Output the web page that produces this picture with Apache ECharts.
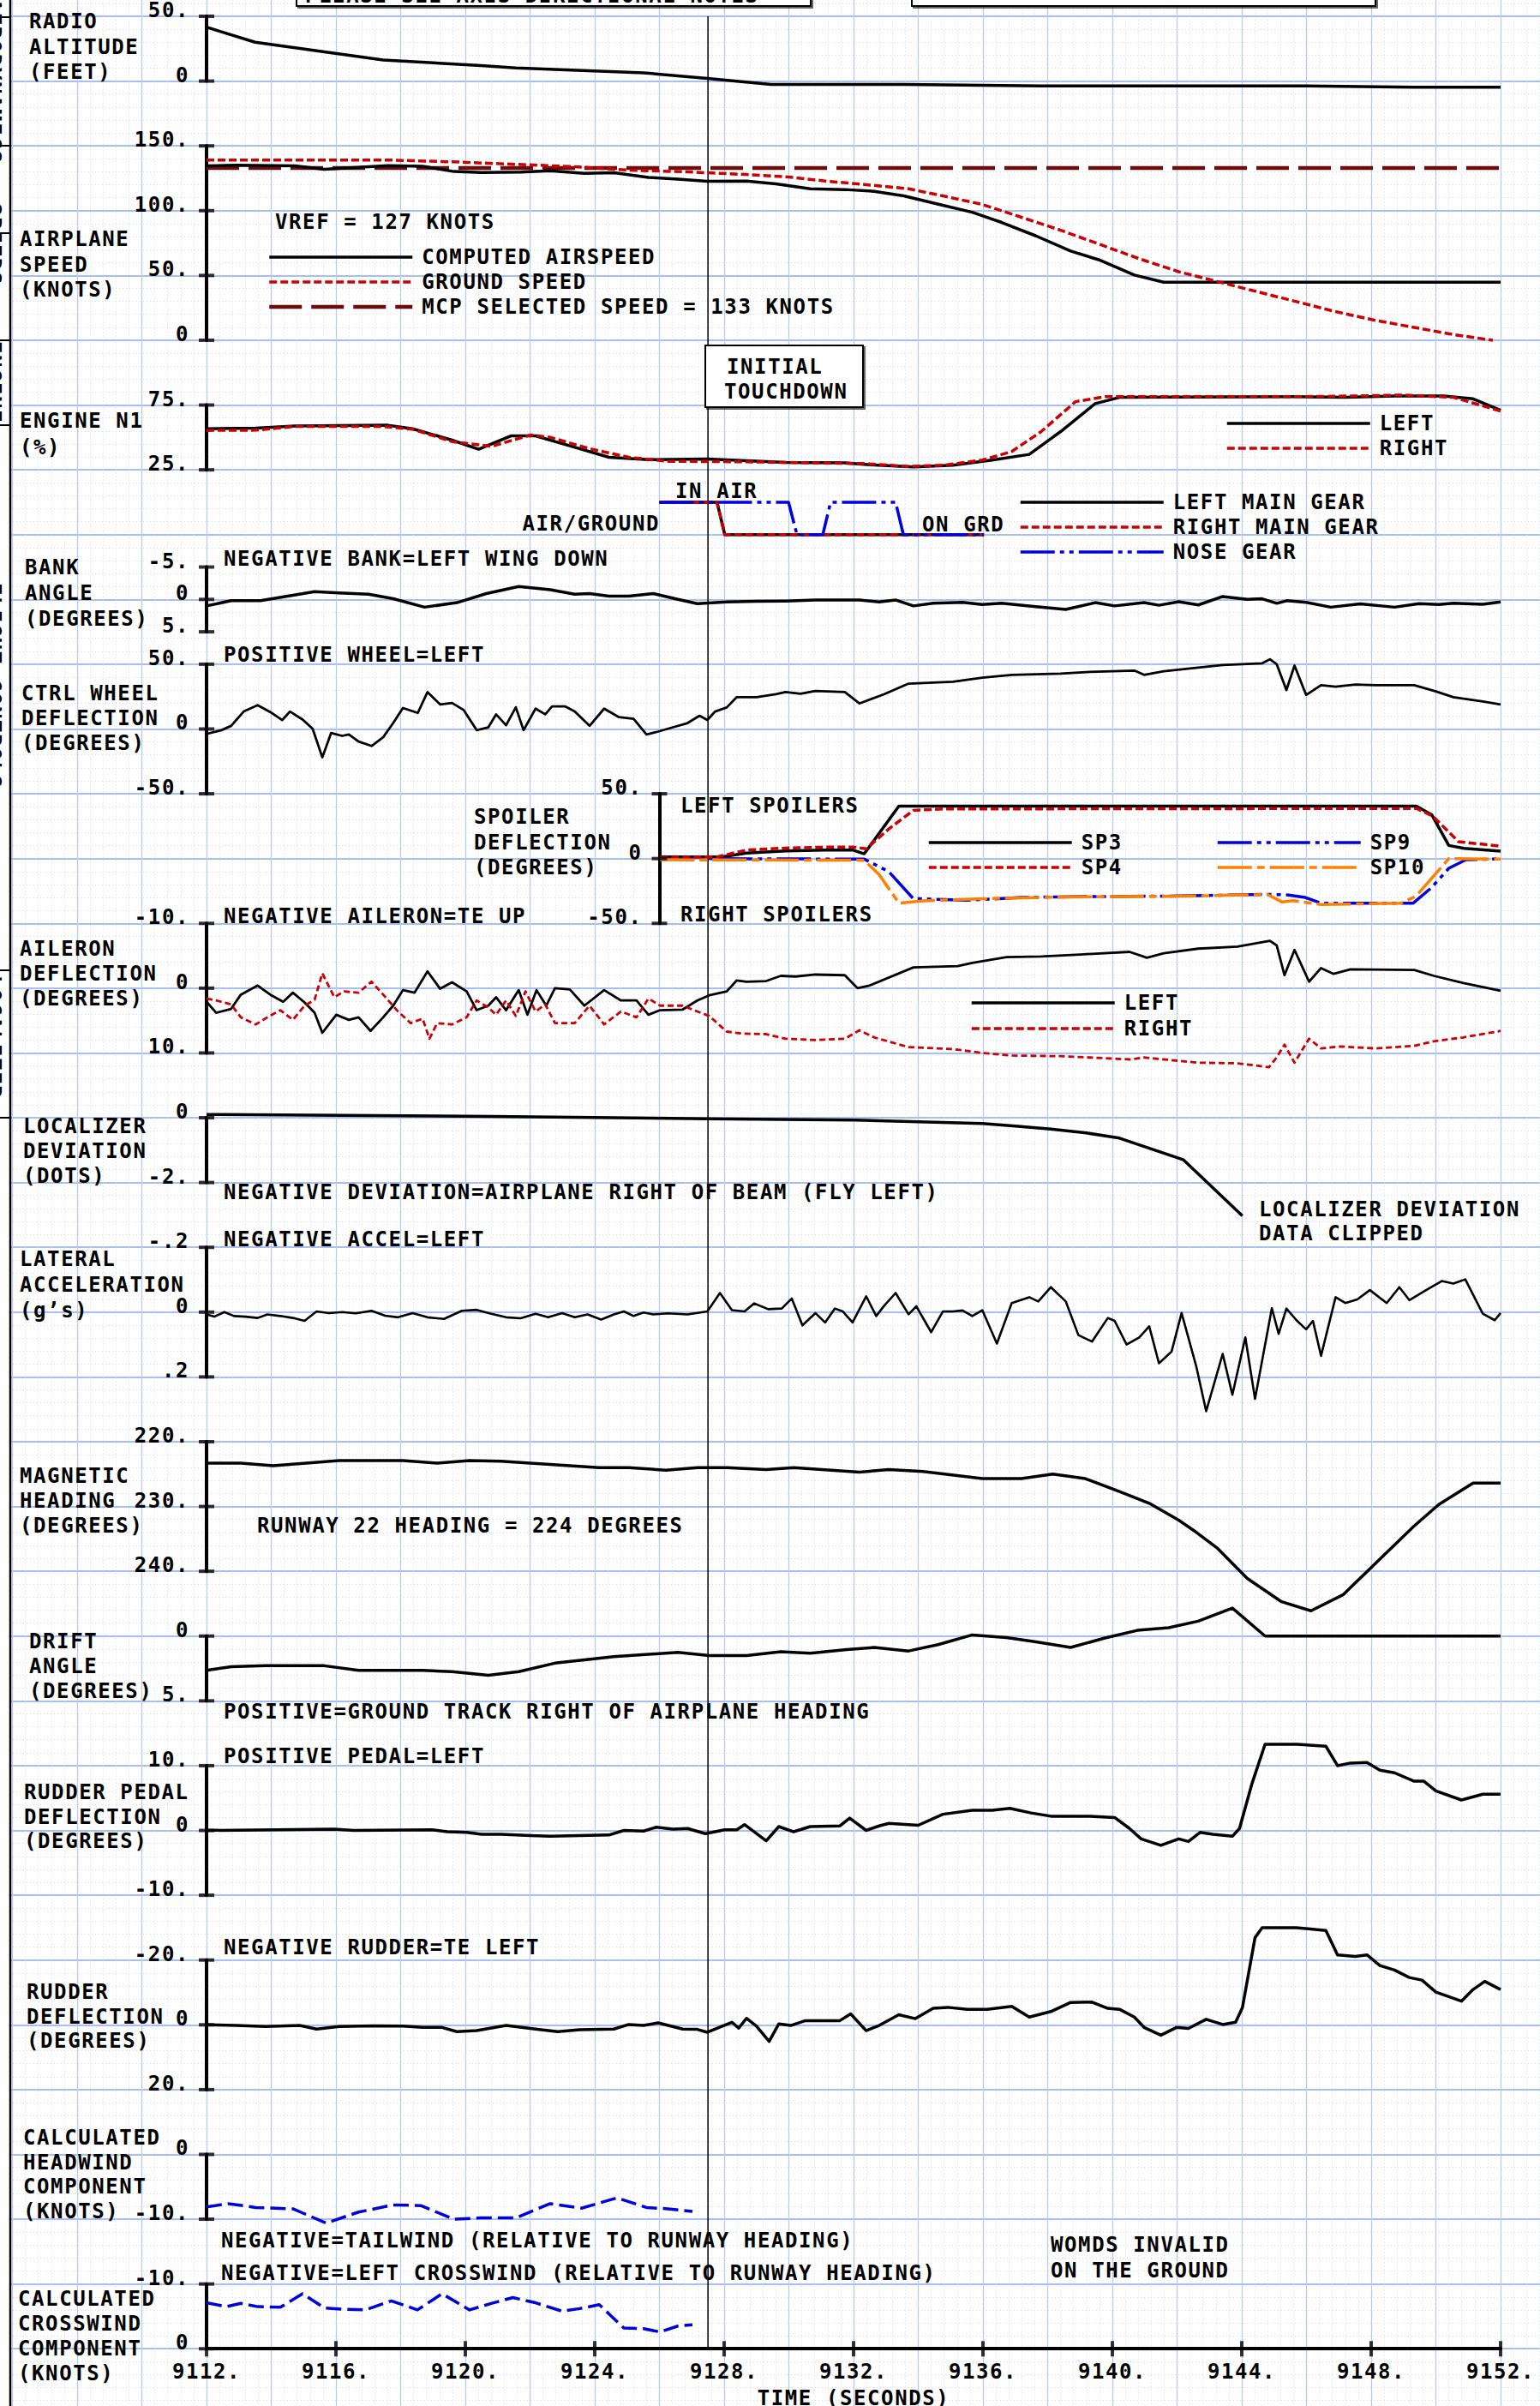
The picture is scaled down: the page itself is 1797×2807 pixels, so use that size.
<!DOCTYPE html>
<html>
<head>
<meta charset="utf-8">
<title>Flight data – landing roll</title>
<script src="https://cdn.jsdelivr.net/npm/echarts@6/dist/echarts.min.js"></script>
<style>
  html, body { margin: 0; padding: 0; background: #fff; }
  #chart { width: 1797px; height: 2807px; }
  #chart text { letter-spacing: 1.6px; }
</style>
</head>
<body>
<div id="chart"></div>
<script>
// ---------------- time axis ----------------
const timeMin = 9112, timeMax = 9152;
const timeTicks = [9112, 9116, 9120, 9124, 9128, 9132, 9136, 9140, 9144, 9148, 9152];
const spoilerTimeMin = 9126;
const touchdownTime = 9127.5;

// ---------------- tick values / labels ----------------
const radioTicks = [0, 50],            radioTickLabels = ['0', '50.'];
const speedTicks = [0, 50, 100, 150],  speedTickLabels = ['0', '50.', '100.', '150.'];
const engineTicks = [25, 75],          engineTickLabels = ['25.', '75.'];
const bankTicks = [-5, 0, 5],          bankTickLabels = ['-5.', '0', '5.'];
const wheelTicks = [-50, 0, 50],       wheelTickLabels = ['-50.', '0', '50.'];
const spoilerTicks = [-50, 0, 50],     spoilerTickLabels = ['-50.', '0', '50.'];
const aileronTicks = [-10, 0, 10],     aileronTickLabels = ['-10.', '0', '10.'];
const locTicks = [-2, 0],              locTickLabels = ['-2.', '0'];
const latTicks = [-0.2, 0, 0.2],       latTickLabels = ['-.2', '0', '.2'];
const headingTicks = [220, 230, 240],  headingTickLabels = ['220.', '230.', '240.'];
const driftTicks = [0, 5],             driftTickLabels = ['0', '5.'];
const pedalTicks = [-10, 0, 10],       pedalTickLabels = ['-10.', '0', '10.'];
const rudderTicks = [-20, 0, 20],      rudderTickLabels = ['-20.', '0', '20.'];
const headwindTicks = [-10, 0],        headwindTickLabels = ['-10.', '0'];
const crosswindTicks = [-10, 0],       crosswindTickLabels = ['-10.', '0'];

// ---------------- recorded parameters [time, value] ----------------
const radioAltitude = [[9112,41.6],[9113.5,30.0],[9117.46,16.3],[9120.48,11.9],[9121.56,10.1],[9125.51,6.4],[9127.48,2.0],[9129.45,-2.6],[9133.55,-2.6],[9137.8,-3.7],[9145.69,-3.7],[9149.33,-4.8],[9152,-4.8]];

const computedAirspeed = [[9112,134.6],[9112.91,135],[9114.73,134.6],[9115.64,131.9],[9116.55,133.2],[9117.61,134.8],[9118.68,134.3],[9119.65,130.2],[9120.5,129.5],[9121.71,129.7],[9122.62,130.8],[9123.68,128.8],[9124.59,129.3],[9125.66,125.7],[9126.57,124.4],[9127.48,122.7],[9128.69,122.9],[9129.6,120.7],[9130.66,116.9],[9131.73,116.3],[9132.64,114.9],[9133.55,111.4],[9134.76,104.1],[9135.67,98.8],[9136.58,90.9],[9137.64,80.5],[9138.71,68.8],[9139.62,61.8],[9140.68,50.3],[9141.59,44.8],[9152,44.8]];
const groundSpeed = [[9112,139],[9117.77,139],[9119.59,137.7],[9121.41,135.9],[9123.23,134.1],[9125.05,131.3],[9126.87,129.9],[9128.69,127.9],[9129.9,126.2],[9131.12,122.9],[9132.33,120.2],[9133.7,116.9],[9134.76,111.4],[9135.98,104.8],[9137.19,94.9],[9138.4,84.9],[9139.62,73.9],[9140.83,62.9],[9142.05,52.9],[9143.26,45.2],[9144.47,37.5],[9145.69,29.8],[9146.9,22.1],[9148.12,15.4],[9149.33,9.9],[9150.54,4.4],[9151.76,0]];
const mcpSelectedSpeed = 133;

const engineN1Left = [[9112,56.7],[9113.52,57.2],[9114.73,58.9],[9117.61,59.4],[9118.37,56.7],[9119.59,47.9],[9120.41,40.9],[9121.41,51.2],[9122.17,51.2],[9123.23,43.5],[9124.44,34.7],[9125.66,32.9],[9127.48,33.4],[9128.69,32],[9129.9,30.7],[9131.73,30.3],[9132.64,28.7],[9133.85,27.2],[9135.07,28.5],[9136.28,32.5],[9137.43,36.9],[9138.4,54.5],[9139.47,76.1],[9140.22,80.9],[9145.69,81.4],[9147.2,80.9],[9148.72,82],[9150.24,82],[9151.15,79.8],[9152,71]];
const engineN1Right = [[9112,55.4],[9113.52,55.6],[9114.73,58.5],[9117.46,58.5],[9118.37,56.3],[9119.59,46.8],[9120.8,43.1],[9122.02,51.9],[9122.62,50.1],[9123.84,41.3],[9125.05,34.7],[9126.26,31.6],[9128.69,31.2],[9129.9,30.7],[9132.33,29.8],[9133.7,27.6],[9134.76,28.5],[9135.98,32.5],[9136.89,39.1],[9137.8,54.5],[9138.86,77.6],[9139.77,81.4],[9145.69,81.4],[9147.51,82],[9149.03,82.7],[9150.54,80.9],[9152,70.4]];

// air/ground discretes: 1 = in air, 0 = on ground
const leftMainGear  = [[9126,1],[9127.78,1],[9128.02,0],[9136.03,0]];
const rightMainGear = [[9126,1],[9127.78,1],[9128.02,0],[9136.03,0]];
const noseGear      = [[9126,1],[9129.99,1],[9130.25,0],[9131.05,0],[9131.29,1],[9133.3,1],[9133.54,0],[9136.03,0]];

const bankAngle = [[9112,1.0],[9112.76,0.2],[9113.67,0.2],[9114.43,-0.45],[9115.34,-1.2],[9116.1,-1.0],[9117.01,-0.8],[9117.77,-0.1],[9118.74,1.2],[9119.74,0.5],[9120.65,-0.9],[9121.65,-2.0],[9122.62,-1.5],[9123.38,-0.8],[9123.84,-0.9],[9124.44,-0.5],[9125.05,-0.5],[9125.81,-0.9],[9126.57,0],[9127.17,0.65],[9128.08,0.4],[9129.0,0.3],[9129.9,0.25],[9130.82,0.1],[9132.18,0.1],[9132.79,0.4],[9133.31,0.1],[9133.85,1.0],[9134.46,0.6],[9135.37,0.45],[9135.98,0.8],[9136.58,0.6],[9137.49,1.05],[9138.56,1.55],[9139.47,0.5],[9140.07,1.0],[9140.98,0.5],[9141.44,0.9],[9142.05,0.35],[9142.66,0.85],[9143.41,-0.45],[9144.17,0],[9144.63,-0.1],[9145.08,0.6],[9145.39,0.2],[9145.99,0.45],[9146.75,1.2],[9147.66,0.7],[9148.72,1.2],[9149.48,0.65],[9150.09,0.8],[9150.54,0.6],[9151.45,0.75],[9152,0.4]];

const ctrlWheel = [[9112,-3.8],[9112.46,-0.9],[9112.76,2.4],[9113.15,13.5],[9113.58,18.4],[9113.97,13.1],[9114.34,6.9],[9114.58,13.5],[9114.97,7.3],[9115.28,0.2],[9115.58,-21.9],[9115.85,-3.1],[9116.19,-5.3],[9116.4,-4.2],[9116.7,-9.7],[9117.1,-13.1],[9117.46,-6.4],[9117.77,4.6],[9118.07,16.2],[9118.53,12.4],[9118.83,28.5],[9119.22,19],[9119.59,20.1],[9119.95,14.6],[9120.35,-0.9],[9120.71,1.3],[9120.95,11.3],[9121.26,2.9],[9121.56,16.8],[9121.8,-0.9],[9122.17,15.7],[9122.47,11.3],[9122.68,17.5],[9123.08,17.5],[9123.38,13.5],[9123.84,2.4],[9124.29,15.7],[9124.75,9.1],[9125.2,7.9],[9125.6,-4.2],[9125.96,-2],[9126.42,1.3],[9126.87,4.6],[9127.24,10.2],[9127.48,6.9],[9127.72,13.5],[9128.08,16.6],[9128.39,24.6],[9129.0,24.6],[9129.6,26.8],[9129.9,28.5],[9130.36,27.2],[9130.82,29.4],[9131.73,28.5],[9132.18,19.7],[9132.94,26.8],[9133.7,35],[9135.07,36.5],[9135.98,39.6],[9136.89,41.8],[9138.4,42.7],[9139.31,44],[9140.68,45.1],[9140.98,41.8],[9141.59,44.5],[9142.65,47.3],[9143.41,49.3],[9144.63,50.7],[9144.87,53.8],[9145.08,50],[9145.38,30.1],[9145.63,48.9],[9145.99,26.3],[9146.45,33.8],[9146.9,32.7],[9147.51,34.3],[9148.12,33.8],[9149.33,33.8],[9150.0,29],[9150.54,24.6],[9151.45,21.2],[9152,19]];

const spoilerSP3 = [[9126.02,1.3],[9127.93,1.3],[9128.69,4.2],[9129.9,5.9],[9131.1,6.6],[9131.97,6.6],[9132.33,3.7],[9133.4,40.5],[9149.4,40.5],[9149.87,33.9],[9150.4,10.1],[9150.87,7.9],[9152,5.7]];
const spoilerSP4 = [[9126.02,0.9],[9127.78,1.3],[9128.69,6.6],[9129.9,8.1],[9131.1,8.8],[9132.0,8.8],[9132.39,7.5],[9133.09,22.9],[9133.85,37.2],[9134.76,38.3],[9149.4,38.7],[9149.9,32.8],[9150.7,13],[9152,9.6]];
const spoilerSP9 = [[9126.02,0],[9132.33,-0.4],[9133.09,-10.1],[9133.85,-31],[9134.1,-31],[9135.5,-32.2],[9137.19,-30],[9138.2,-29.6],[9139.6,-29.3],[9142.05,-28.9],[9144.8,-27.6],[9145.4,-28],[9145.96,-30],[9146.45,-34.4],[9149.3,-34.4],[9149.87,-22.3],[9150.4,-7.5],[9150.93,-0.9],[9152,-0.2]];
const spoilerSP10 = [[9126.02,-0.9],[9132.33,-1.3],[9132.79,-12.3],[9133.4,-34.4],[9134.15,-32.6],[9136.0,-31],[9137.8,-30],[9140,-29.3],[9142.05,-29],[9144.8,-27.8],[9145.25,-33.5],[9145.6,-32.5],[9146.45,-35.5],[9148.93,-34.4],[9149.39,-29],[9150.4,0],[9152,-0.4]];

const aileronLeft = [[9112,2.1],[9112.3,3.8],[9112.76,3.2],[9113.06,1.0],[9113.58,-0.4],[9113.97,1.0],[9114.37,2.1],[9114.67,0.7],[9115.03,2.2],[9115.34,3.8],[9115.58,6.9],[9116.01,4.1],[9116.4,4.9],[9116.7,4.5],[9117.07,6.6],[9117.46,4.5],[9117.77,2.7],[9118.07,0.3],[9118.43,0.7],[9118.83,-2.6],[9119.22,0.1],[9119.59,-0.9],[9120.04,0.5],[9120.35,3.4],[9120.71,2.7],[9120.95,1.4],[9121.26,3.4],[9121.65,0.3],[9121.92,4.1],[9122.2,0.3],[9122.5,2.7],[9122.77,0],[9123.23,0.2],[9123.68,2.7],[9124.29,0.3],[9124.81,1.9],[9125.29,1.9],[9125.66,4.1],[9126.02,3.4],[9126.72,3.3],[9127.17,1.9],[9127.54,1.1],[9128.08,0.5],[9128.39,-1.2],[9128.69,-1.0],[9129.3,-1.1],[9129.75,-1.9],[9130.21,-1.8],[9130.82,-2.1],[9131.73,-2.0],[9132.12,0],[9132.49,-0.4],[9133.85,-3.2],[9135.22,-3.4],[9135.67,-3.9],[9136.73,-4.8],[9137.8,-4.9],[9139.01,-5.2],[9140.53,-5.6],[9141.07,-4.7],[9141.59,-5.4],[9142.65,-6.1],[9143.87,-6.4],[9144.53,-7.0],[9144.87,-7.3],[9145.08,-6.6],[9145.32,-2.0],[9145.63,-5.9],[9146.08,-1.0],[9146.45,-3.1],[9146.84,-2.2],[9147.36,-2.9],[9149.33,-2.8],[9149.94,-1.9],[9150.85,-0.8],[9152,0.4]];
const aileronRight = [[9112,1.6],[9112.3,1.9],[9112.76,2.5],[9113.06,4.5],[9113.52,5.6],[9113.88,4.5],[9114.28,3.4],[9114.67,4.9],[9115.03,2.7],[9115.34,1.8],[9115.58,-2.3],[9115.95,1.4],[9116.25,0.5],[9116.7,0.7],[9117.1,-1.0],[9117.46,1.0],[9117.92,3.6],[9118.31,5.4],[9118.68,4.7],[9118.89,7.8],[9119.13,5.4],[9119.59,5.6],[9120.04,4.5],[9120.35,1.9],[9120.71,3.0],[9120.95,4.1],[9121.26,1.9],[9121.56,4.3],[9121.86,0.5],[9122.17,3.6],[9122.47,2.5],[9122.77,5.4],[9123.38,5.4],[9123.84,2.7],[9124.29,5.6],[9124.81,3.6],[9125.29,4.5],[9125.66,1.6],[9126.02,2.7],[9126.72,2.7],[9127.17,3.6],[9127.54,4.3],[9128.08,6.7],[9128.54,7.0],[9129.3,7.1],[9129.9,7.8],[9130.82,8.0],[9131.73,7.8],[9132.18,6.5],[9132.64,7.6],[9133.7,9.1],[9135.07,9.4],[9135.98,10],[9136.89,10.4],[9138.4,10.5],[9139.31,10.7],[9140.53,11.0],[9140.98,10.7],[9141.59,11.0],[9142.65,11.5],[9143.87,11.6],[9144.84,12.2],[9145.08,10.7],[9145.32,8.7],[9145.63,11.5],[9146.08,7.8],[9146.45,9.3],[9147.05,9.0],[9148.12,9.3],[9149.33,8.9],[9149.94,8.2],[9150.85,7.6],[9152,6.6]];

const localizerDeviation = [[9112,0.1],[9120.8,0.04],[9127.48,-0.03],[9132.03,-0.07],[9135.98,-0.18],[9137.0,-0.26],[9138.1,-0.35],[9139.2,-0.47],[9140.22,-0.63],[9142.2,-1.3],[9144.02,-3.03]];

const lateralAccel = [[9112,0.007],[9112.24,0.014],[9112.55,0],[9112.85,0.012],[9113.21,0.014],[9113.58,0.018],[9113.88,0.007],[9114.28,0.012],[9114.67,0.018],[9115.03,0.027],[9115.4,-0.002],[9115.79,0.003],[9116.19,0],[9116.61,0.004],[9117.1,-0.004],[9117.52,0.011],[9117.92,0.016],[9118.37,0.003],[9118.83,0.016],[9119.34,0.021],[9119.89,-0.004],[9120.35,-0.007],[9120.8,0.005],[9121.26,0.016],[9121.71,0.019],[9122.17,0.005],[9122.56,0.016],[9122.99,0.003],[9123.38,0.016],[9123.78,0.007],[9124.2,0.023],[9124.59,0.007],[9124.9,-0.002],[9125.2,0.012],[9125.51,0.001],[9125.81,0.007],[9126.26,0.004],[9126.87,0.007],[9127.48,-0.002],[9127.87,-0.059],[9128.24,-0.006],[9128.63,-0.002],[9128.93,-0.027],[9129.36,-0.009],[9129.78,-0.011],[9130.09,-0.042],[9130.42,0.041],[9130.82,0.003],[9131.12,0.032],[9131.42,-0.011],[9131.67,-0.002],[9131.97,0.032],[9132.39,-0.049],[9132.7,0.012],[9132.94,-0.019],[9133.3,-0.059],[9133.7,0.007],[9133.94,-0.018],[9134.4,0.062],[9134.76,-0.002],[9135.07,-0.002],[9135.37,-0.005],[9135.67,0.012],[9135.98,-0.006],[9136.43,0.097],[9136.89,-0.028],[9137.43,-0.046],[9137.71,-0.033],[9138.1,-0.077],[9138.56,-0.033],[9138.95,0.071],[9139.37,0.091],[9139.86,0.018],[9140.07,0.027],[9140.44,0.1],[9140.83,0.078],[9141.14,0.044],[9141.44,0.158],[9141.83,0.122],[9142.14,0.003],[9142.59,0.166],[9142.9,0.306],[9143.41,0.129],[9143.71,0.255],[9144.11,0.078],[9144.41,0.268],[9144.93,-0.012],[9145.14,0.067],[9145.38,-0.011],[9145.69,0.025],[9145.99,0.053],[9146.2,0.027],[9146.45,0.135],[9146.9,-0.046],[9147.2,-0.028],[9147.57,-0.039],[9147.96,-0.068],[9148.48,-0.028],[9148.87,-0.077],[9149.18,-0.037],[9149.63,-0.064],[9150.18,-0.096],[9150.54,-0.088],[9150.91,-0.101],[9151.45,0.005],[9151.82,0.025],[9152,0.003]];

const magneticHeading = [[9112,223.3],[9113.06,223.3],[9114.06,223.7],[9116.1,222.9],[9118.07,222.9],[9119.13,223.3],[9120.13,222.9],[9121.1,223.0],[9124.14,224.0],[9125.05,224.0],[9126.2,224.4],[9127.17,224.0],[9128.08,224.0],[9129.3,224.3],[9130.15,224.0],[9132.18,224.7],[9133.09,224.3],[9134.15,224.6],[9135.98,225.7],[9137.19,225.7],[9138.16,225.0],[9139.16,225.7],[9140.22,227.7],[9141.14,229.5],[9142.05,232.1],[9142.6,234.0],[9143.26,236.5],[9144.17,241.1],[9145.23,244.7],[9146.14,246.1],[9147.14,243.6],[9147.96,239.6],[9149.33,233.0],[9150.09,229.7],[9151.15,226.4],[9152,226.4]];

const driftAngle = [[9112,2.64],[9112.76,2.36],[9113.82,2.29],[9115.64,2.29],[9116.7,2.64],[9118.68,2.64],[9119.59,2.75],[9120.71,3.02],[9121.65,2.75],[9122.77,2.09],[9124.59,1.59],[9126.57,1.26],[9127.54,1.5],[9128.69,1.5],[9129.75,1.21],[9130.66,1.32],[9131.79,1.04],[9132.64,0.88],[9133.7,1.15],[9134.61,0.66],[9135.67,-0.09],[9136.73,0.11],[9137.64,0.44],[9138.71,0.88],[9139.77,0.15],[9140.77,-0.44],[9141.74,-0.64],[9142.65,-1.15],[9143.71,-2.16],[9144.72,0],[9152,0]];

const rudderPedal = [[9112,0],[9115.95,0.2],[9116.55,0],[9118.98,0.1],[9119.44,-0.2],[9120.04,-0.3],[9120.5,-0.6],[9121.1,-0.6],[9122.02,-0.8],[9122.62,-0.9],[9124.44,-0.7],[9124.9,0],[9125.51,-0.1],[9125.9,0.5],[9126.42,0.2],[9126.87,0.3],[9127.42,-0.5],[9128.02,0.1],[9128.39,0.1],[9128.63,0.9],[9129.3,-1.6],[9129.69,0.6],[9130.15,-0.2],[9130.66,0.6],[9131.58,0.7],[9131.88,1.9],[9132.39,0],[9132.79,0.7],[9133.09,1.1],[9134.0,0.8],[9134.76,2.5],[9135.67,3.1],[9136.28,3.1],[9136.83,3.4],[9137.49,2.7],[9138.1,2.2],[9139.31,2.2],[9140.07,2.0],[9140.53,0.3],[9140.89,-1.3],[9141.5,-2.3],[9142.05,-1.3],[9142.35,-1.7],[9142.71,-0.3],[9143.11,-0.6],[9143.71,-0.9],[9143.93,0.3],[9144.32,7.3],[9144.72,13.3],[9145.69,13.3],[9146.6,13.0],[9146.96,10],[9147.36,10.4],[9147.87,10.5],[9148.27,9.3],[9148.72,8.9],[9149.33,7.6],[9149.63,7.6],[9150.0,6.1],[9150.79,4.7],[9151.45,5.6],[9152,5.6]];

const rudderDeflection = [[9112,0],[9112.91,0.2],[9113.82,0.5],[9114.88,0.2],[9115.4,1.3],[9116.1,0.5],[9117.16,0.3],[9118.07,0.4],[9118.68,0.8],[9119.28,0.8],[9119.74,2.1],[9120.35,1.8],[9121.26,0.2],[9122.17,1.3],[9122.86,2.1],[9123.53,1.5],[9124.59,1.3],[9125.05,-0.1],[9125.51,0.2],[9125.96,-0.6],[9126.72,1.3],[9127.17,1.4],[9127.48,2.3],[9128.24,-0.8],[9128.45,1.0],[9128.69,-2.0],[9129.0,0.4],[9129.39,5.1],[9129.69,-0.3],[9130.06,0.2],[9130.51,-1.3],[9131.58,-1.3],[9131.91,-3.4],[9132.39,1.8],[9132.79,0.2],[9133.4,-3.1],[9133.91,-1.9],[9134.46,-5.1],[9134.91,-5.4],[9135.52,-4.8],[9136.13,-4.8],[9136.89,-5.7],[9137.43,-2.4],[9138.1,-4.1],[9138.71,-6.9],[9139.37,-7.0],[9139.86,-5.1],[9140.22,-4.8],[9140.68,-2.4],[9140.98,0.8],[9141.5,3.2],[9141.98,0.8],[9142.35,1.1],[9142.9,-1.7],[9143.41,-0.1],[9143.81,-0.8],[9144.02,-5.3],[9144.41,-26.9],[9144.63,-30],[9145.69,-30],[9146.6,-29.1],[9146.96,-21.6],[9147.51,-21.1],[9147.87,-21.6],[9148.27,-18.3],[9148.72,-16.9],[9149.18,-14.6],[9149.57,-13.8],[9150.0,-10.1],[9150.79,-7.3],[9151.15,-10.9],[9151.51,-13.4],[9152,-10.9]];

const headwindComponent = [[9112,-8.1],[9112.67,-7.6],[9113.52,-8.2],[9114.67,-8.4],[9115.7,-10.6],[9116.7,-8.9],[9117.77,-7.8],[9118.62,-7.9],[9119.65,-10],[9120.5,-9.8],[9121.56,-9.8],[9122.62,-7.6],[9123.59,-8.3],[9124.69,-6.7],[9125.6,-8.2],[9126.26,-8.4],[9127.02,-8.8]];
const crosswindComponent = [[9112,-7.1],[9112.61,-6.5],[9113.06,-7.0],[9113.58,-6.5],[9114.28,-6.4],[9114.97,-8.5],[9115.64,-6.3],[9116.25,-6.1],[9116.92,-6.0],[9117.71,-7.4],[9118.52,-6.0],[9119.28,-8.5],[9120.13,-6.0],[9120.8,-7.0],[9121.47,-7.9],[9122.17,-7.1],[9122.99,-5.8],[9123.53,-6.2],[9124.14,-6.8],[9124.5,-5.1],[9124.9,-3.2],[9125.51,-3.1],[9126.02,-2.6],[9126.57,-3.5],[9127.02,-3.7]];

// ---------------- layout ----------------
const FONT_FAMILY = '"DejaVu Sans Mono", "Liberation Mono", monospace';
const FONT_SIZE = 24;
const FONT = 'bold ' + FONT_SIZE + 'px ' + FONT_FAMILY;
const PLOT_LEFT = 241, PLOT_RIGHT = 1751;
const ROW0 = 19, ROW = 75.59;              // grid row origin and pitch (px)
const rowY = k => ROW0 + ROW * k;
const SEC = (PLOT_RIGHT - PLOT_LEFT) / (timeMax - timeMin);

const BLACK = '#000000', RED = '#cc0000', DARKRED = '#6e0b0b', BLUE = '#0000dd', ORANGE = '#ff8000';

const panels = [
  { key: 'radio',     k1: 0,   k2: 1,   min: 0,    max: 50,  ticks: radioTicks,    labels: radioTickLabels },
  { key: 'speed',     k1: 2,   k2: 5,   min: 0,    max: 150, ticks: speedTicks,    labels: speedTickLabels },
  { key: 'engine',    k1: 6,   k2: 7,   min: 25,   max: 75,  ticks: engineTicks,   labels: engineTickLabels },
  { key: 'gear',      k1: 7,   k2: 8,   min: 0,    max: 2,   ticks: [],            labels: [], hidden: true },
  { key: 'bank',      k1: 8.5, k2: 9.5, min: -5,   max: 5,   ticks: bankTicks,     labels: bankTickLabels, inverse: true },
  { key: 'wheel',     k1: 10,  k2: 12,  min: -50,  max: 50,  ticks: wheelTicks,    labels: wheelTickLabels },
  { key: 'spoiler',   k1: 12,  k2: 14,  min: -50,  max: 50,  ticks: spoilerTicks,  labels: spoilerTickLabels, tmin: spoilerTimeMin },
  { key: 'aileron',   k1: 14,  k2: 16,  min: -10,  max: 10,  ticks: aileronTicks,  labels: aileronTickLabels, inverse: true },
  { key: 'localizer', k1: 17,  k2: 18,  min: -2,   max: 0,   ticks: locTicks,      labels: locTickLabels },
  { key: 'lateral',   k1: 19,  k2: 21,  min: -0.2, max: 0.2, ticks: latTicks,      labels: latTickLabels, inverse: true },
  { key: 'heading',   k1: 22,  k2: 24,  min: 220,  max: 240, ticks: headingTicks,  labels: headingTickLabels, inverse: true },
  { key: 'drift',     k1: 25,  k2: 26,  min: 0,    max: 5,   ticks: driftTicks,    labels: driftTickLabels, inverse: true },
  { key: 'pedal',     k1: 27,  k2: 29,  min: -10,  max: 10,  ticks: pedalTicks,    labels: pedalTickLabels },
  { key: 'rudder',    k1: 30,  k2: 32,  min: -20,  max: 20,  ticks: rudderTicks,   labels: rudderTickLabels, inverse: true },
  { key: 'headwind',  k1: 33,  k2: 34,  min: -10,  max: 0,   ticks: headwindTicks, labels: headwindTickLabels },
  { key: 'crosswind', k1: 35,  k2: 36,  min: -10,  max: 0,   ticks: crosswindTicks, labels: crosswindTickLabels, inverse: true, timeAxis: true }
];

const grids = [], xAxes = [], yAxes = [], series = [];
const panelIndex = {};

// background graph paper (index 0): 2 s / one row per major square, 5 minor divisions
grids.push({ left: PLOT_LEFT - 4 * 2 * SEC, top: ROW0 - ROW, width: 50 * SEC, height: 38 * ROW,
  containLabel: false, outerBoundsMode: 'none' });
xAxes.push({ gridIndex: 0, type: 'value', min: timeMin - 8, max: timeMin + 42, interval: 2,
  axisLine: { show: false }, axisTick: { show: false }, axisLabel: { show: false },
  splitLine: { show: true, showMinLine: true, showMaxLine: false, lineStyle: { color: '#b7cbf3', width: 1.3 } },
  minorTick: { show: false, splitNumber: 5 },
  minorSplitLine: { show: true, lineStyle: { color: '#d3dbea', width: 1, type: [1, 3] } } });
yAxes.push({ gridIndex: 0, type: 'value', min: -1, max: 37, interval: 1, inverse: true,
  axisLine: { show: false }, axisTick: { show: false }, axisLabel: { show: false },
  splitLine: { show: true, lineStyle: { color: '#a6bff2', width: 2 } },
  minorTick: { show: false, splitNumber: 5 },
  minorSplitLine: { show: true, lineStyle: { color: '#d3dbea', width: 1, type: [1, 3] } } });

const textBase = { fontFamily: FONT_FAMILY, fontWeight: 'bold', fontSize: FONT_SIZE, color: BLACK };

panels.forEach((p, i) => {
  const idx = i + 1;
  panelIndex[p.key] = idx;
  const tmin = p.tmin || timeMin;
  const left = PLOT_LEFT + (tmin - timeMin) * SEC;
  grids.push({ left: left, width: PLOT_RIGHT - left, top: rowY(p.k1), height: rowY(p.k2) - rowY(p.k1),
    containLabel: false, outerBoundsMode: 'none' });
  xAxes.push({
    gridIndex: idx, type: 'value', min: tmin, max: timeMax,
    interval: 4, show: !!p.timeAxis,
    axisLine: { show: !!p.timeAxis, lineStyle: { color: BLACK, width: 4 } },
    axisTick: { show: false },
    splitLine: { show: false },
    axisLabel: Object.assign({ show: !!p.timeAxis, margin: 15, formatter: v => v + '.' }, textBase),
    name: p.timeAxis ? 'TIME (SECONDS)' : '',
    nameLocation: 'middle', nameGap: 46,
    nameTextStyle: textBase
  });
  const hasTicks = p.ticks.length > 1;
  yAxes.push({
    gridIndex: idx, type: 'value', min: p.min, max: p.max, inverse: !!p.inverse,
    interval: hasTicks ? (p.ticks[1] - p.ticks[0]) : undefined,
    show: !p.hidden,
    axisLine: { show: !p.hidden, lineStyle: { color: BLACK, width: 4 } },
    axisTick: { show: false },
    splitLine: { show: false },
    axisLabel: Object.assign({
      show: !p.hidden, margin: 20, verticalAlign: 'bottom', lineHeight: 14,
      formatter: v => {
        const j = p.ticks.findIndex(t => Math.abs(t - v) < 1e-6);
        return j >= 0 ? p.labels[j] : '';
      }
    }, textBase)
  });
  // short bars crossing the axis line at every labelled value
  if (hasTicks) {
    series.push({ type: 'scatter', xAxisIndex: idx, yAxisIndex: idx, silent: true, clip: false, z: 6,
      symbol: 'rect', symbolSize: [18, 4], itemStyle: { color: BLACK },
      data: p.ticks.map(v => [tmin, v]) });
  }
});

// time-axis tick bars
series.push({ type: 'scatter', xAxisIndex: panelIndex.crosswind, yAxisIndex: panelIndex.crosswind,
  silent: true, clip: false, z: 6, symbol: 'rect', symbolSize: [4, 18], itemStyle: { color: BLACK },
  data: timeTicks.map(t => [t, 0]) });

// initial touchdown marker across all panels (background rows 0..36)
series.push({ type: 'line', xAxisIndex: 0, yAxisIndex: 0, silent: true, clip: false, symbol: 'none', z: 3,
  lineStyle: { color: BLACK, width: 1.5 }, data: [[touchdownTime, 0], [touchdownTime, 36]] });

function addLine(panel, name, data, color, width, dash, z) {
  const idx = panelIndex[panel];
  series.push({
    type: 'line', name: name, xAxisIndex: idx, yAxisIndex: idx, data: data,
    symbol: 'none', clip: false, silent: true, z: z || 4,
    itemStyle: { color: color },
    lineStyle: { color: color, width: width, type: dash || 'solid', cap: 'butt', join: 'round' }
  });
}

const RED_DASH = [9, 4];
const DASH_DOT_DOT = [40, 6, 5, 6, 5, 6];
const DASH_DOT = [40, 6, 9, 6];

addLine('radio', 'RADIO ALTITUDE', radioAltitude, BLACK, 3.5);
addLine('speed', 'MCP SELECTED SPEED = 133 KNOTS', [[timeMin, mcpSelectedSpeed], [timeMax, mcpSelectedSpeed]], DARKRED, 4.5, [38, 11], 3);
addLine('speed', 'COMPUTED AIRSPEED', computedAirspeed, BLACK, 3.5, null, 4);
addLine('speed', 'GROUND SPEED', groundSpeed, RED, 3.5, RED_DASH, 5);
addLine('engine', 'LEFT', engineN1Left, BLACK, 3.5, null, 4);
addLine('engine', 'RIGHT', engineN1Right, RED, 3.5, RED_DASH, 5);
addLine('gear', 'LEFT MAIN GEAR', leftMainGear, BLACK, 3.5, null, 4);
addLine('gear', 'RIGHT MAIN GEAR', rightMainGear, RED, 3.5, RED_DASH, 5);
addLine('gear', 'NOSE GEAR', noseGear, BLUE, 3.5, DASH_DOT_DOT, 6);
addLine('bank', 'BANK ANGLE', bankAngle, BLACK, 3.5);
addLine('wheel', 'CTRL WHEEL', ctrlWheel, BLACK, 2.8);
addLine('spoiler', 'SP3', spoilerSP3, BLACK, 3.5, null, 4);
addLine('spoiler', 'SP4', spoilerSP4, RED, 3.5, RED_DASH, 5);
addLine('spoiler', 'SP9', spoilerSP9, BLUE, 3.5, DASH_DOT_DOT, 4);
addLine('spoiler', 'SP10', spoilerSP10, ORANGE, 3.5, DASH_DOT, 5);
addLine('aileron', 'LEFT', aileronLeft, BLACK, 2.8, null, 4);
addLine('aileron', 'RIGHT', aileronRight, RED, 2.8, [7, 4], 5);
addLine('localizer', 'LOCALIZER DEVIATION', localizerDeviation, BLACK, 3.5);
addLine('lateral', 'LATERAL ACCELERATION', lateralAccel, BLACK, 2.6);
addLine('heading', 'MAGNETIC HEADING', magneticHeading, BLACK, 3.5);
addLine('drift', 'DRIFT ANGLE', driftAngle, BLACK, 3.5);
addLine('pedal', 'RUDDER PEDAL DEFLECTION', rudderPedal, BLACK, 3.5);
addLine('rudder', 'RUDDER DEFLECTION', rudderDeflection, BLACK, 3.5);
addLine('headwind', 'HEADWIND', headwindComponent, BLUE, 3.5, [18, 7]);
addLine('crosswind', 'CROSSWIND', crosswindComponent, BLUE, 3.5, [18, 7]);

// ---------------- legends ----------------
function legendAt(names, left, centerY, pitch) {
  return {
    data: names, orient: 'vertical', left: left, top: centerY - 12, padding: 0,
    selectedMode: false, itemWidth: 167, itemHeight: 14, itemGap: (pitch || 29) - 24,
    lineStyle: { width: 'inherit' }, itemStyle: { opacity: 0 },
    textStyle: Object.assign({ padding: [0, 0, 0, 6] }, textBase)
  };
}
const legends = [
  legendAt(['COMPUTED AIRSPEED', 'GROUND SPEED', 'MCP SELECTED SPEED = 133 KNOTS'], 312, 300),
  legendAt(['LEFT', 'RIGHT'], 1430, 494),
  legendAt(['LEFT MAIN GEAR', 'RIGHT MAIN GEAR', 'NOSE GEAR'], 1189, 586),
  legendAt(['SP3', 'SP4'], 1082, 983),
  legendAt(['SP9', 'SP10'], 1419, 983),
  legendAt(['LEFT', 'RIGHT'], 1132, 1170, 30)
];

// ---------------- annotations ----------------
function txt(str, x, y, align, extra) {
  return Object.assign({
    type: 'text', x: x, y: y, silent: true, z: 60,
    style: { text: str, font: FONT, fill: BLACK, textAlign: align || 'left', align: align || 'left',
      textVerticalAlign: 'middle', verticalAlign: 'middle' }
  }, extra || {});
}
function block(lines, x, y0, step) {
  return lines.map((s, i) => txt(s, x, y0 + i * (step || 29.5)));
}

const annotations = [].concat(
  block(['RADIO', 'ALTITUDE', '(FEET)'], 34, 25),
  block(['AIRPLANE', 'SPEED', '(KNOTS)'], 23, 279),
  block(['ENGINE N1', '(%)'], 23, 491, 31),
  block(['BANK', 'ANGLE', '(DEGREES)'], 29, 662, 30),
  block(['CTRL WHEEL', 'DEFLECTION', '(DEGREES)'], 25, 809, 29),
  block(['SPOILER', 'DEFLECTION', '(DEGREES)'], 553, 953, 29.5),
  block(['AILERON', 'DEFLECTION', '(DEGREES)'], 23, 1107, 29),
  block(['LOCALIZER', 'DEVIATION', '(DOTS)'], 27, 1314, 29),
  block(['LATERAL', 'ACCELERATION', '(g\u2019s)'], 23, 1469, 30),
  block(['MAGNETIC', 'HEADING', '(DEGREES)'], 23, 1722, 29),
  block(['DRIFT', 'ANGLE', '(DEGREES)'], 34, 1915, 29),
  block(['RUDDER PEDAL', 'DEFLECTION', '(DEGREES)'], 28, 2091, 28.5),
  block(['RUDDER', 'DEFLECTION', '(DEGREES)'], 31, 2324, 28.7),
  block(['CALCULATED', 'HEADWIND', 'COMPONENT', '(KNOTS)'], 27, 2494, 28.7),
  block(['CALCULATED', 'CROSSWIND', 'COMPONENT', '(KNOTS)'], 21, 2682, 29),
  [
    txt('VREF = 127 KNOTS', 321, 259),
    txt('NEGATIVE BANK=LEFT WING DOWN', 261, 652),
    txt('POSITIVE WHEEL=LEFT', 261, 764),
    txt('LEFT SPOILERS', 794, 940),
    txt('RIGHT SPOILERS', 794, 1067),
    txt('NEGATIVE AILERON=TE UP', 261, 1069),
    txt('NEGATIVE DEVIATION=AIRPLANE RIGHT OF BEAM (FLY LEFT)', 261, 1391),
    txt('LOCALIZER DEVIATION', 1469, 1411),
    txt('DATA CLIPPED', 1469, 1439),
    txt('NEGATIVE ACCEL=LEFT', 261, 1446),
    txt('RUNWAY 22 HEADING = 224 DEGREES', 300, 1780),
    txt('POSITIVE=GROUND TRACK RIGHT OF AIRPLANE HEADING', 261, 1997),
    txt('POSITIVE PEDAL=LEFT', 261, 2049),
    txt('NEGATIVE RUDDER=TE LEFT', 261, 2272),
    txt('NEGATIVE=TAILWIND (RELATIVE TO RUNWAY HEADING)', 258, 2614),
    txt('NEGATIVE=LEFT CROSSWIND (RELATIVE TO RUNWAY HEADING)', 258, 2652),
    txt('WOMDS INVALID', 1226, 2619),
    txt('ON THE GROUND', 1226, 2649),
    txt('AIR/GROUND', 770, 611, 'right'),
    txt('IN AIR', 788, 573),
    txt('ON GRD', 1076, 612),
    txt('INITIAL', 848, 428),
    txt('TOUCHDOWN', 845, 457),
    txt('PLEASE SEE AXIS DIRECTIONAL NOTES', 356, -5)
  ]
);

const frames = [
  // note boxes along the top edge
  { type: 'rect', z: 50, silent: true, shape: { x: 346, y: -40, width: 600, height: 47 },
    style: { fill: '#fff', stroke: BLACK, lineWidth: 2, shadowColor: 'rgba(0,0,0,0.6)', shadowOffsetX: 2, shadowOffsetY: 2 } },
  { type: 'rect', z: 50, silent: true, shape: { x: 1064, y: -40, width: 541, height: 47 },
    style: { fill: '#fff', stroke: BLACK, lineWidth: 2, shadowColor: 'rgba(0,0,0,0.6)', shadowOffsetX: 2, shadowOffsetY: 2 } },
  // touchdown call-out
  { type: 'rect', z: 50, silent: true, shape: { x: 823, y: 403, width: 184, height: 72 },
    style: { fill: '#fff', stroke: BLACK, lineWidth: 2, shadowColor: 'rgba(0,0,0,0.6)', shadowOffsetX: 2, shadowOffsetY: 2 } },
  // left margin strip
  { type: 'rect', z: 90, silent: true, shape: { x: 0, y: 0, width: 11, height: 2807 }, style: { fill: '#fff' } },
  { type: 'line', z: 92, silent: true, shape: { x1: 12, y1: 0, x2: 12, y2: 2807 }, style: { stroke: BLACK, lineWidth: 2.5 } }
].concat([20, 170, 272, 397, 496, 1132, 1304].map(y => (
  { type: 'line', z: 92, silent: true, shape: { x1: 0, y1: y, x2: 12, y2: y }, style: { stroke: BLACK, lineWidth: 2 } }
))).concat([
  ['AERODYNAMICS', 95], ['SPEEDS', 285], ['ENGINE', 446], ['FLIGHT CONTROLS', 800], ['LOCALIZER', 1210]
].map(([s, y]) => txt(s, -8, y, 'center', { rotation: -Math.PI / 2, z: 91 })));

const chart = echarts.init(document.getElementById('chart'), null, { renderer: 'svg', width: 1797, height: 2807 });
chart.setOption({
  animation: false,
  backgroundColor: '#ffffff',
  textStyle: textBase,
  grid: grids,
  xAxis: xAxes,
  yAxis: yAxes,
  legend: legends,
  series: series,
  graphic: { elements: annotations.concat(frames) }
});
</script>
</body>
</html>
